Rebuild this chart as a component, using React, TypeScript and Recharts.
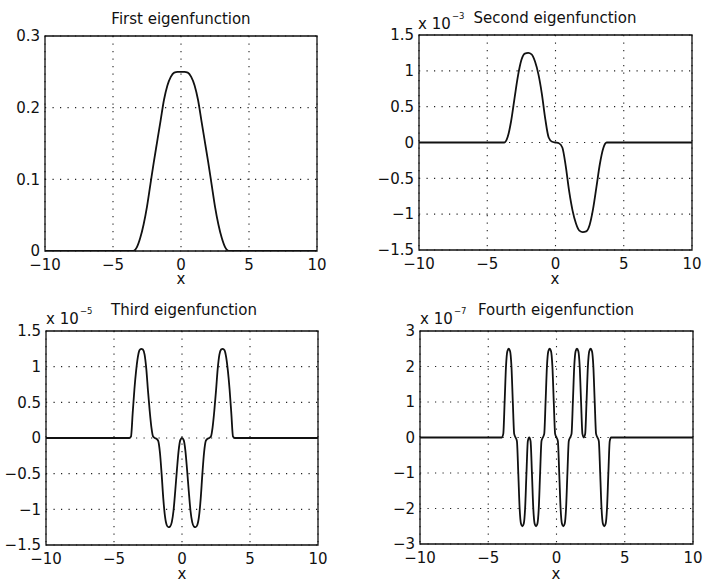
import React from 'react';
import { LineChart, Line, XAxis, YAxis, CartesianGrid, ReferenceArea } from 'recharts';

const xTicks = [-10, -5, 0, 5, 10];

// x grid used by the first two panels
const xCoarse = [-10, -4, -3.75, -3.5, -3.25, -3, -2.75, -2.5, -2.25, -2, -1.75, -1.5, -1.25, -1, -0.75, -0.5, -0.25, 0, 0.25, 0.5, 0.75, 1, 1.25, 1.5, 1.75, 2, 2.25, 2.5, 2.75, 3, 3.25, 3.5, 3.75, 4, 10];

const yFirst = [0, 0, 0, 0, 0.005, 0.018, 0.037, 0.062, 0.093, 0.124, 0.153, 0.182, 0.211, 0.231, 0.243, 0.249, 0.25, 0.25, 0.25, 0.249, 0.243, 0.231, 0.211, 0.182, 0.153, 0.124, 0.093, 0.062, 0.037, 0.018, 0.005, 0, 0, 0, 0];

// x 10^-3
const ySecond = [0, 0, 0, 0.08, 0.3, 0.62, 0.93, 1.15, 1.24, 1.25, 1.23, 1.13, 0.95, 0.68, 0.33, 0.07, 0.01, 0, -0.01, -0.07, -0.33, -0.68, -0.95, -1.13, -1.23, -1.25, -1.24, -1.15, -0.93, -0.62, -0.3, -0.08, 0, 0, 0];

// x grid for the third panel
const xMid = [-10, -4, -3.875, -3.75, -3.625, -3.5, -3.375, -3.25, -3.125, -3, -2.875, -2.75, -2.625, -2.5, -2.375, -2.25, -2.125, -2, -1.875, -1.75, -1.625, -1.5, -1.375, -1.25, -1.125, -1, -0.875, -0.75, -0.625, -0.5, -0.375, -0.25, -0.125, 0, 0.125, 0.25, 0.375, 0.5, 0.625, 0.75, 0.875, 1, 1.125, 1.25, 1.375, 1.5, 1.625, 1.75, 1.875, 2, 2.125, 2.25, 2.375, 2.5, 2.625, 2.75, 2.875, 3, 3.125, 3.25, 3.375, 3.5, 3.625, 3.75, 3.875, 4, 10];

// x 10^-5
const yThird = [0, 0, 0, 0.02, 0.35, 0.68, 0.94, 1.13, 1.23, 1.25, 1.24, 1.17, 0.97, 0.66, 0.38, 0.15, 0.02, 0, -0.01, -0.04, -0.2, -0.5, -0.85, -1.1, -1.22, -1.25, -1.24, -1.18, -1.02, -0.75, -0.45, -0.18, -0.03, 0, -0.03, -0.18, -0.45, -0.75, -1.02, -1.18, -1.24, -1.25, -1.22, -1.1, -0.85, -0.5, -0.2, -0.04, -0.01, 0, 0.02, 0.15, 0.38, 0.66, 0.97, 1.17, 1.24, 1.25, 1.23, 1.13, 0.94, 0.68, 0.35, 0.02, 0, 0, 0];

// x grid for the fourth panel
const xFine = [-10, -4, -3.9, -3.8, -3.7, -3.6, -3.5, -3.4, -3.3, -3.2, -3.1, -3, -2.9, -2.8, -2.7, -2.6, -2.5, -2.4, -2.3, -2.2, -2.1, -2, -1.9, -1.8, -1.7, -1.6, -1.5, -1.4, -1.3, -1.2, -1.1, -1, -0.9, -0.8, -0.7, -0.6, -0.5, -0.4, -0.3, -0.2, -0.1, 0, 0.1, 0.2, 0.3, 0.4, 0.5, 0.6, 0.7, 0.8, 0.9, 1, 1.1, 1.2, 1.3, 1.4, 1.5, 1.6, 1.7, 1.8, 1.9, 2, 2.1, 2.2, 2.3, 2.4, 2.5, 2.6, 2.7, 2.8, 2.9, 3, 3.1, 3.2, 3.3, 3.4, 3.5, 3.6, 3.7, 3.8, 3.9, 4, 10];

// x 10^-7
const yFourth = [0, 0,
  0.1, 1, 2, 2.43, 2.5, 2.43, 2, 1, 0.1, 0,
  -0.1, -1, -2, -2.43, -2.5, -2.43, -2, -1, -0.1, 0,
  -0.1, -1, -2, -2.43, -2.5, -2.43, -2, -1, -0.1, 0,
  0.1, 1, 2, 2.43, 2.5, 2.43, 2, 1, 0.1, 0,
  -0.1, -1, -2, -2.43, -2.5, -2.43, -2, -1, -0.1, 0,
  0.1, 1, 2, 2.43, 2.5, 2.43, 2, 1, 0.1, 0,
  0.1, 1, 2, 2.43, 2.5, 2.43, 2, 1, 0.1, 0,
  -0.1, -1, -2, -2.43, -2.5, -2.43, -2, -1, -0.1, 0,
  0];

const ticksFirst = [0, 0.1, 0.2, 0.3];
const ticksHalf = [-1.5, -1, -0.5, 0, 0.5, 1, 1.5];
const ticksFourth = [-3, -2, -1, 0, 1, 2, 3];

const FONT = 'DejaVu Sans';
const tickStyle = { fill: '#111', fontSize: 15, fontFamily: FONT };
const fmt = (v: number) => String(v).replace('-', '\u2212');

function Panel({ left, top, margin, xs, ys, yDomain, yTicks }: any) {
  const data = xs.map((x: number, i: number) => ({ x, y: ys[i] }));
  return (
    <div style={{ position: 'absolute', left, top }}>
      <LineChart width={352} height={293} data={data} margin={margin}>
        <CartesianGrid stroke="#222" strokeWidth={1.1} strokeDasharray="1.2 6.3" />
        <XAxis
          type="number"
          dataKey="x"
          domain={[-10, 10]}
          ticks={xTicks}
          interval={0}
          axisLine={false}
          tickLine={false}
          tickSize={0}
          tickMargin={8}
          height={40}
          tick={tickStyle}
          tickFormatter={fmt}
          allowDataOverflow
        />
        <YAxis
          type="number"
          domain={yDomain}
          ticks={yTicks}
          interval={0}
          axisLine={false}
          tickLine={false}
          tickSize={0}
          tickMargin={5}
          width={40}
          tick={tickStyle}
          tickFormatter={fmt}
          allowDataOverflow
        />
        <ReferenceArea x1={-10} x2={10} y1={yDomain[0]} y2={yDomain[1]} fill="none" stroke="#111" strokeWidth={1.3} />
        <Line type="monotone" dataKey="y" stroke="#111" strokeWidth={1.8} dot={false} isAnimationActive={false} />
      </LineChart>
    </div>
  );
}

export default function App() {
  const txt = { fontFamily: FONT, fontSize: 15, fill: '#111' };
  return (
    <div style={{ position: 'absolute', left: 0, top: 0, width: 704, height: 586, background: '#fff' }}>
      <Panel left={0} top={0} margin={{ top: 36, right: 35, bottom: 2, left: 5 }} xs={xCoarse} ys={yFirst} yDomain={[0, 0.3]} yTicks={ticksFirst} />
      <Panel left={352} top={0} margin={{ top: 35, right: 12, bottom: 3, left: 27 }} xs={xCoarse} ys={ySecond} yDomain={[-1.5, 1.5]} yTicks={ticksHalf} />
      <Panel left={0} top={293} margin={{ top: 38, right: 34, bottom: 1, left: 6 }} xs={xMid} ys={yThird} yDomain={[-1.5, 1.5]} yTicks={ticksHalf} />
      <Panel left={352} top={293} margin={{ top: 38, right: 11, bottom: 2, left: 28 }} xs={xFine} ys={yFourth} yDomain={[-3, 3]} yTicks={ticksFourth} />
      <svg width={704} height={586} style={{ position: 'absolute', left: 0, top: 0, pointerEvents: 'none' }}>
        <text x={181} y={24} textAnchor="middle" {...txt}>First eigenfunction</text>
        <text x={555} y={23} textAnchor="middle" {...txt}>Second eigenfunction</text>
        <text x={184} y={315} textAnchor="middle" {...txt}>Third eigenfunction</text>
        <text x={556} y={315} textAnchor="middle" {...txt}>Fourth eigenfunction</text>

        <text x={181} y={284} textAnchor="middle" {...txt}>x</text>
        <text x={555} y={284} textAnchor="middle" {...txt}>x</text>
        <text x={182} y={579} textAnchor="middle" {...txt}>x</text>
        <text x={556} y={579} textAnchor="middle" {...txt}>x</text>

        <text x={418} y={29} {...txt}>x 10</text>
        <text x={452} y={19} {...txt} fontSize={8.5}>{'\u22123'}</text>
        <text x={46} y={324} {...txt}>x 10</text>
        <text x={80} y={314} {...txt} fontSize={8.5}>{'\u22125'}</text>
        <text x={420} y={324} {...txt}>x 10</text>
        <text x={454} y={314} {...txt} fontSize={8.5}>{'\u22127'}</text>
      </svg>
    </div>
  );
}
